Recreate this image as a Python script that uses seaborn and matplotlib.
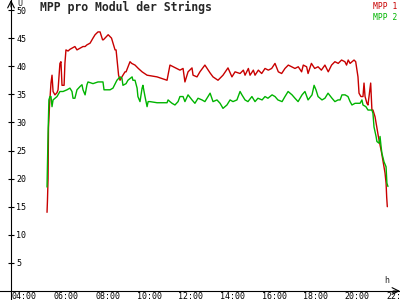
import matplotlib
matplotlib.use("Agg")
import matplotlib.pyplot as plt
from matplotlib.transforms import ScaledTranslation
import numpy as np
import pandas as pd
import seaborn as sns

# ---- data (hours of day, volts) ----
mpp1_hours = [5.54, 5.56, 5.59, 5.61, 5.66, 5.73, 5.78, 5.83, 5.92, 6.02, 6.07, 6.16, 6.21,
              6.26, 6.36, 6.40, 6.45, 6.55, 6.64, 6.74, 6.88, 6.98, 7.13, 7.27, 7.37, 7.46,
              7.61, 7.75, 7.85, 7.99, 8.09, 8.21, 8.25, 8.40, 8.48, 8.64, 8.81, 8.86, 8.98,
              9.05, 9.14, 9.29, 9.34, 9.53, 9.61, 9.77, 9.93, 10.11, 10.35, 10.83, 11.31,
              11.45, 11.93, 12.08, 12.17, 12.32, 12.51, 12.56, 12.75, 12.89, 13.13, 13.38,
              13.52, 13.76, 14.00, 14.24, 14.43, 14.58, 14.82, 14.98, 15.06, 15.22, 15.30,
              15.46, 15.54, 15.70, 15.86, 16.02, 16.18, 16.34, 16.50, 16.66, 16.82, 16.98,
              17.14, 17.30, 17.46, 17.62, 17.78, 17.86, 18.02, 18.09, 18.25, 18.41, 18.57,
              18.73, 18.90, 19.06, 19.22, 19.38, 19.54, 19.70, 19.86, 19.94, 20.02, 20.11,
              20.30, 20.38, 20.44, 20.49, 20.54, 20.63, 20.73, 20.78, 20.83, 20.92, 20.97,
              21.10, 21.16, 21.21, 21.31, 21.39, 21.47, 21.55, 21.63, 21.71, 21.79, 21.84,
              21.87, 21.90]
mpp1_volts = [14.0, 16.0, 20.0, 29.0, 33.0, 37.0, 38.4, 35.5, 34.9, 35.3, 35.8, 40.5, 40.8,
              36.6, 36.6, 40.5, 42.9, 42.7, 43.0, 43.2, 43.5, 42.9, 43.2, 43.5, 43.5, 43.8,
              44.1, 45.0, 45.6, 46.1, 46.1, 44.7, 44.7, 45.3, 45.6, 45.0, 42.9, 42.9, 38.4,
              37.5, 38.1, 39.0, 39.0, 40.8, 40.5, 40.2, 39.6, 39.0, 38.4, 38.1, 37.5,
              40.2, 39.3, 39.6, 37.2, 39.0, 39.7, 38.4, 38.1, 39.0, 40.2, 38.8,
              38.1, 37.5, 38.4, 39.7, 38.1, 39.0, 38.7, 39.3, 38.4, 39.6, 38.4,
              39.3, 38.4, 39.3, 38.7, 39.6, 39.3, 39.6, 40.5, 39.0, 38.7, 39.6,
              40.2, 39.9, 39.6, 39.9, 39.0, 40.2, 39.9, 38.7, 40.5, 39.6, 39.9,
              39.3, 40.2, 39.0, 40.2, 40.8, 40.5, 41.1, 40.8, 40.2, 41.1, 40.5,
              41.1, 40.8, 39.3, 38.1, 35.2, 34.6, 34.6, 37.0, 34.6, 33.4, 33.1,
              37.0, 32.2, 32.2, 31.0, 29.2, 27.5, 26.0, 24.5, 22.8, 21.0, 19.2,
              16.7, 15.0]

mpp2_hours = [5.54, 5.59, 5.63, 5.68, 5.73, 5.78, 5.83, 6.02, 6.16, 6.31, 6.50, 6.64, 6.74,
              6.79, 6.88, 6.98, 7.13, 7.22, 7.27, 7.37, 7.46, 7.51, 7.75, 7.99, 8.23, 8.28,
              8.57, 8.71, 8.90, 9.05, 9.14, 9.19, 9.34, 9.43, 9.63, 9.67, 9.77, 9.87, 9.91,
              10.01, 10.11, 10.15, 10.25, 10.35, 10.40, 10.49, 10.83, 11.31, 11.36, 11.45,
              11.55, 11.69, 11.84, 11.93, 12.08, 12.17, 12.32, 12.51, 12.65, 12.80, 12.99,
              13.13, 13.38, 13.52, 13.71, 13.86, 14.00, 14.19, 14.34, 14.48, 14.67, 14.82,
              14.91, 15.06, 15.20, 15.39, 15.54, 15.68, 15.88, 16.02, 16.16, 16.36, 16.50,
              16.64, 16.84, 16.98, 17.13, 17.32, 17.46, 17.61, 17.80, 17.94, 18.09, 18.28,
              18.38, 18.47, 18.57, 18.76, 18.90, 19.05, 19.24, 19.38, 19.53, 19.63, 19.72,
              19.87, 20.01, 20.11, 20.20, 20.35, 20.59, 20.68, 20.73, 20.87, 20.97, 21.16,
              21.21, 21.26, 21.36, 21.40, 21.50, 21.55, 21.60, 21.64, 21.74, 21.84, 21.88,
              21.93]
mpp2_volts = [18.5, 28.0, 34.0, 34.6, 34.6, 32.8, 34.0, 34.6, 35.5, 35.5, 35.8, 36.1, 35.5,
              34.3, 34.3, 35.8, 36.4, 36.7, 35.8, 34.9, 36.7, 37.2, 36.9, 37.2, 37.2, 35.8,
              35.8, 36.1, 37.5, 38.1, 37.9, 36.6, 36.9, 37.5, 38.1, 37.5, 37.5, 36.1, 34.6,
              33.7, 36.1, 36.6, 34.6, 32.8, 33.7, 33.7, 33.5, 33.5, 34.0, 33.7,
              33.4, 33.1, 33.7, 34.6, 34.6, 33.7, 34.9, 34.0, 33.4, 34.3, 34.0,
              33.7, 35.2, 33.7, 34.0, 33.4, 32.5, 33.1, 34.0, 33.7, 34.0, 35.5,
              34.9, 34.0, 33.7, 34.6, 33.7, 34.3, 34.0, 34.6, 34.3, 34.9, 34.6,
              34.0, 33.7, 34.6, 35.5, 34.9, 34.3, 33.7, 34.9, 35.5, 34.0, 34.9,
              36.6, 35.8, 34.6, 34.0, 34.3, 35.2, 34.3, 33.7, 34.0, 34.0, 34.9,
              34.9, 34.6, 33.7, 33.1, 33.4, 33.4, 34.0, 33.1, 32.8, 32.2, 32.2,
              31.6, 29.2, 27.5, 26.6, 26.3, 27.5, 25.7, 24.5, 23.0, 22.1, 19.2,
              18.6]

series_names = ["MPP 1", "MPP 2"]
series_colors = ["#c80000", "#00b400"]
x_tick_hours = [4, 6, 8, 10, 12, 14, 16, 18, 20, 22]
x_tick_labels = ["04:00", "06:00", "08:00", "10:00", "12:00", "14:00",
                 "16:00", "18:00", "20:00", "22:00"]
y_ticks = [5, 10, 15, 20, 25, 30, 35, 40, 45, 50]
title = "MPP pro Modul der Strings"

sns.set_theme(style="white")
plt.rcParams["font.family"] = ["DejaVu Sans Mono", "DejaVu Sans"]

df = pd.concat([
    pd.DataFrame({"t": mpp1_hours, "v": mpp1_volts, "s": series_names[0]}),
    pd.DataFrame({"t": mpp2_hours, "v": mpp2_volts, "s": series_names[1]}),
], ignore_index=True)

fig = plt.figure(figsize=(4, 3), dpi=100)
fig.patch.set_facecolor("white")
ax = fig.add_axes([0, 0, 1, 1])
ax.set_facecolor("white")

sns.lineplot(data=df, x="t", y="v", hue="s", hue_order=series_names,
             palette=dict(zip(series_names, series_colors)),
             estimator=None, sort=False, lw=1.0, ax=ax)

ax.set_xlim(3.279, 22.51)
ax.set_ylim(-1.6, 51.78)
ax.set_xlabel("")
ax.set_ylabel("")
ax.grid(False)

yaxis_x = 3.808
for s in ["top", "left"]:
    ax.spines[s].set_visible(False)
ax.spines["right"].set_position(("data", yaxis_x))
ax.spines["bottom"].set_position(("data", 0))
for s in ["right", "bottom"]:
    ax.spines[s].set_color("black")
    ax.spines[s].set_linewidth(0.8)

ax.yaxis.tick_right()
ax.set_yticks(y_ticks)
ax.set_yticklabels([str(v) for v in y_ticks])
ax.tick_params(axis="y", direction="inout", length=4.5, width=0.8, pad=1.5,
               labelsize=6, colors="black", right=True, left=False)

ax.set_xticks(x_tick_hours)
ax.set_xticklabels(x_tick_labels)
ax.tick_params(axis="x", direction="inout", length=5, width=0.8, pad=-1.5,
               labelsize=6, colors="black")
off = ScaledTranslation(-3 / 100, 0, fig.dpi_scale_trans)
for lab in ax.get_xticklabels():
    lab.set_ha("left")
    lab.set_transform(lab.get_transform() + off)

# axis arrows
ax.annotate("", xy=(1.0, 0), xycoords=("axes fraction", "data"),
            xytext=(-5, 0), textcoords="offset points",
            arrowprops=dict(arrowstyle="->", lw=0.8, color="black",
                            shrinkA=0, shrinkB=0))
ax.annotate("", xy=(yaxis_x, 1.0), xycoords=("data", "axes fraction"),
            xytext=(0, -5), textcoords="offset points",
            arrowprops=dict(arrowstyle="->", lw=0.8, color="black",
                            shrinkA=0, shrinkB=0))

fig.text(17 / 400, 1 + 1 / 300, "U", ha="left", va="top", fontsize=6)
fig.text(384 / 400, 1 - 283 / 300, "h", ha="left", va="baseline", fontsize=6)
fig.text(40 / 400, 1 - 7.5 / 300, title, ha="left", va="center",
         fontsize=8.3, fontweight="bold")

leg = ax.legend(loc="upper right", bbox_to_anchor=(1.0, 1.0), frameon=False,
                handlelength=0, handletextpad=0, borderaxespad=0.3,
                borderpad=0, labelspacing=0.15, fontsize=5.8,
                labelcolor="linecolor")
for h in leg.legend_handles:
    h.set_visible(False)

fig.savefig("out.png", dpi=100, facecolor="white")
